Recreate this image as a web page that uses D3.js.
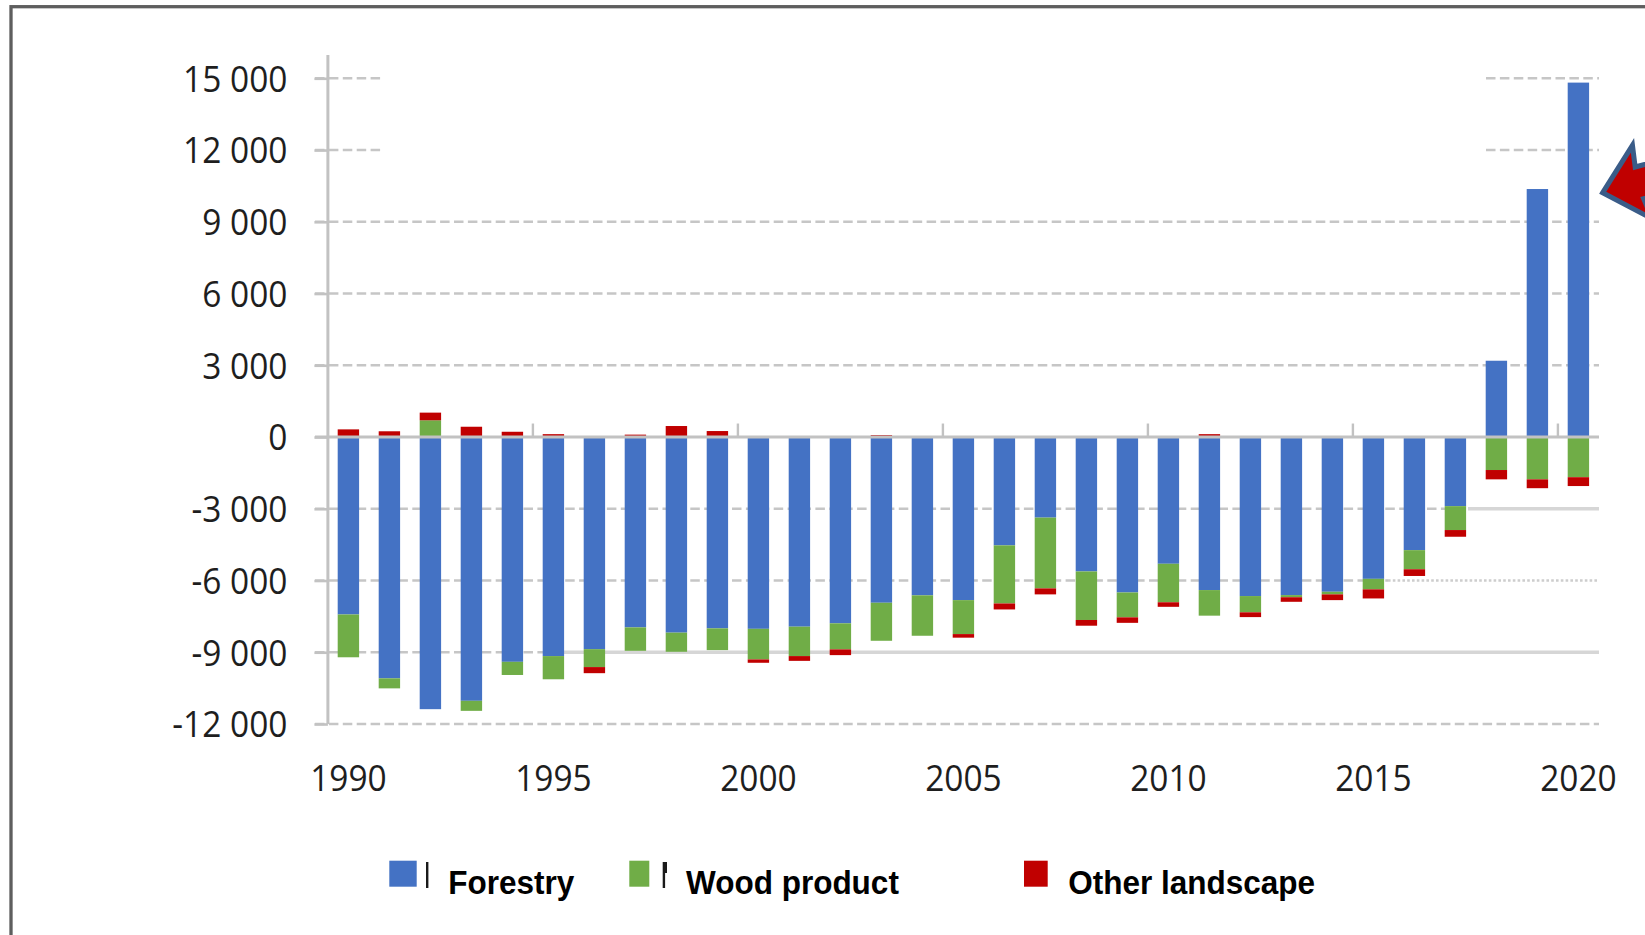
<!DOCTYPE html>
<html>
<head>
<meta charset="utf-8">
<script src="https://cdn.jsdelivr.net/npm/d3@7"></script>
<style>
  html, body { margin: 0; padding: 0; background: #ffffff; }
  svg { display: block; }
</style>
</head>
<body>
<svg id="chart" width="1645" height="935"></svg>
<script>
// Net emissions / removals by sub-category, 1990–2020
const years = [1990, 1991, 1992, 1993, 1994, 1995, 1996, 1997, 1998, 1999,
               2000, 2001, 2002, 2003, 2004, 2005, 2006, 2007, 2008, 2009,
               2010, 2011, 2012, 2013, 2014, 2015, 2016, 2017, 2018, 2019, 2020];

const forestry = [-7420, -10090, -11380, -11030, -9400, -9160, -8870, -7960, -8180, -8000,
                  -8020, -7930, -7790, -6930, -6620, -6820, -4530, -3370, -5620, -6500,
                  -5300, -6400, -6650, -6610, -6470, -5930, -4730, -2890, 3190, 10370, 14820];

const woodProduct = [-1790, -420, 700, -420, -550, -970, -750, -980, -800, -910,
                     -1280, -1230, -1090, -1590, -1690, -1420, -2430, -2960, -2030, -1040,
                     -1610, -1070, -680, -90, -110, -440, -800, -1000, -1380, -1770, -1680];

const otherLandscape = [320, 240, 320, 430, 220, 120, -255, 100, 460, 250,
                        -140, -200, -240, 80, 40, -150, -250, -250, -240, -230,
                        -190, 120, -200, -190, -240, -380, -280, -280, -390, -370, -370];

const seriesNames = ["Forestry", "Wood product", "Other landscape"];
const seriesColors = ["#4472c4", "#70ad47", "#c00000"];

const yTickValues = [-12000, -9000, -6000, -3000, 0, 3000, 6000, 9000, 12000, 15000];
const xLabelYears = [1990, 1995, 2000, 2005, 2010, 2015, 2020];

// ---------------------------------------------------------------------------
const svg = d3.select("#chart");

const plotLeft = 327.9, plotRight = 1598.9;
const x = d3.scaleBand()
  .domain(years)
  .range([plotLeft, plotRight])
  .paddingInner(0.478)
  .paddingOuter(0.239);

const y = d3.scaleLinear()
  .domain([-12000, 15000])
  .range([724, 78.3]);

const keys = ["forestry", "wood", "other"];
const rows = years.map((yr, i) => ({
  year: yr,
  forestry: forestry[i],
  wood: woodProduct[i],
  other: otherLandscape[i]
}));
const stacked = d3.stack().keys(keys).offset(d3.stackOffsetDiverging)(rows);

// outer frame
svg.append("rect")
  .attr("x", 11).attr("y", 6.7)
  .attr("width", 1800).attr("height", 1200)
  .attr("fill", "none")
  .attr("stroke", "#5e5e5e")
  .attr("stroke-width", 3.3);

// gridlines, drawn in pieces with their own line styles
const lineStyles = {
  dash:  { stroke: "#c6c6c6", width: 2.6, dash: "9.5,4.4" },
  solid: { stroke: "#d6d6d6", width: 3.4, dash: null },
  dot:   { stroke: "#cdcdcd", width: 2.4, dash: "2.6,2.2" }
};
const gridX0 = 315, gridX1 = 1599;
const gridPieces = {
  "15000":  [[gridX0, 381, "dash"], [1486, gridX1, "dash"]],
  "12000":  [[gridX0, 381, "dash"], [1486, gridX1, "dash"]],
  "9000":   [[gridX0, gridX1, "dash"]],
  "6000":   [[gridX0, gridX1, "dash"]],
  "3000":   [[gridX0, gridX1, "dash"]],
  "-3000":  [[gridX0, 1468, "dash"], [1468, gridX1, "solid"]],
  "-6000":  [[gridX0, 1388, "dash"], [1388, gridX1, "dot"]],
  "-9000":  [[gridX0, 543, "dash"], [543, gridX1, "solid"]],
  "-12000": [[gridX0, gridX1, "dash"]]
};
const gGrid = svg.append("g");
yTickValues.filter(v => v !== 0).forEach(v => {
  (gridPieces[String(v)] || []).forEach(([a, b, s]) => {
    const st = lineStyles[s];
    gGrid.append("line")
      .attr("x1", a).attr("x2", b)
      .attr("y1", y(v)).attr("y2", y(v))
      .attr("stroke", st.stroke)
      .attr("stroke-width", st.width)
      .attr("stroke-dasharray", st.dash);
  });
});

// stacked bars
const gBars = svg.append("g");
stacked.forEach((layer, li) => {
  gBars.append("g")
    .attr("fill", seriesColors[li])
    .selectAll("rect")
    .data(layer)
    .join("rect")
    .attr("x", d => x(d.data.year))
    .attr("width", x.bandwidth())
    .attr("y", d => y(Math.max(d[0], d[1])))
    .attr("height", d => Math.abs(y(d[0]) - y(d[1])));
});

// zero line and category tick marks every five years
const axisColor = "#c2c2c2";
svg.append("line")
  .attr("x1", gridX0).attr("x2", gridX1)
  .attr("y1", y(0)).attr("y2", y(0))
  .attr("stroke", axisColor).attr("stroke-width", 3);

const gCatTicks = svg.append("g");
years.forEach((yr, i) => {
  if (i > 0 && i % 5 === 0) {
    const bx = x.range()[0] + i * x.step();
    gCatTicks.append("line")
      .attr("x1", bx).attr("x2", bx)
      .attr("y1", y(0) - 13.5).attr("y2", y(0))
      .attr("stroke", axisColor).attr("stroke-width", 2.4);
  }
});

// value axis
const fmt = d3.formatLocale({
  decimal: ".", thousands: " ", grouping: [3], currency: ["", ""], minus: "-"
}).format(",");

const labelRight = 287.5;
const textScale = 0.93;
const gY = svg.append("g")
  .attr("transform", `translate(${plotLeft},0)`)
  .call(d3.axisLeft(y).tickValues(yTickValues).tickFormat(fmt).tickSize(13.5).tickSizeOuter(0));
gY.select(".domain").remove();
gY.selectAll(".tick line")
  .attr("stroke", axisColor).attr("stroke-width", 2.6);
gY.selectAll(".tick text")
  .attr("x", null).attr("dy", null)
  .attr("transform", `translate(${labelRight - plotLeft},12.8) scale(${textScale},1)`)
  .attr("text-anchor", "end")
  .attr("font-family", "'Open Sans', 'Noto Sans', sans-serif")
  .attr("font-size", 36)
  .attr("fill", "#1e1e1e");

svg.append("line")
  .attr("x1", plotLeft).attr("x2", plotLeft)
  .attr("y1", 55).attr("y2", y(-12000))
  .attr("stroke", axisColor).attr("stroke-width", 3);

// year labels under the plot
const gX = svg.append("g")
  .attr("transform", "translate(0,791)")
  .call(d3.axisBottom(x).tickValues(xLabelYears).tickSize(0));
gX.select(".domain").remove();
gX.selectAll(".tick line").remove();
gX.selectAll(".tick text")
  .attr("y", 0).attr("dy", null)
  .attr("transform", `scale(${textScale},1)`)
  .attr("text-anchor", "middle")
  .attr("font-family", "'Open Sans', 'Noto Sans', sans-serif")
  .attr("font-size", 36)
  .attr("fill", "#1e1e1e");

// legend
const legendItems = [
  { sw: [389.3, 27.4], tx: 448.3, stub: 426 },
  { sw: [629.3, 20.0], tx: 686.0, stub: 662.7 },
  { sw: [1024.0, 23.7], tx: 1068.3, stub: null }
];
const gLeg = svg.append("g");
legendItems.forEach((it, i) => {
  gLeg.append("rect")
    .attr("x", it.sw[0]).attr("y", 860.7)
    .attr("width", it.sw[1]).attr("height", 26)
    .attr("fill", seriesColors[i]);
  if (it.stub !== null) {
    gLeg.append("rect")
      .attr("x", it.stub).attr("y", 862)
      .attr("width", 2.4).attr("height", 26)
      .attr("fill", "#1a1a1a");
  }
  gLeg.append("text")
    .attr("transform", `translate(${it.tx},894.3) scale(0.955,1)`)
    .attr("font-family", "'Liberation Sans', Arial, sans-serif")
    .attr("font-weight", "bold")
    .attr("font-size", 33)
    .attr("fill", "#000")
    .text(seriesNames[i]);
});
// remnant of a letter next to the second swatch
gLeg.append("rect")
  .attr("x", 665).attr("y", 862).attr("width", 2).attr("height", 11)
  .attr("fill", "#1a1a1a");

// call-out arrow pointing at the latest bar
const tip = [1602.7, 192.7];
const arrowPts = [[0, 0], [41, -38], [38, -16.4], [300, -16.4], [300, 16.4], [38, 16.4], [41, 38]];
svg.append("polygon")
  .attr("points", arrowPts.map(p => p.join(",")).join(" "))
  .attr("transform", `translate(${tip[0]},${tip[1]}) rotate(-15)`)
  .attr("fill", "#c00000")
  .attr("stroke", "#3a5c88")
  .attr("stroke-width", 5)
  .attr("stroke-linejoin", "miter");
</script>
</body>
</html>
